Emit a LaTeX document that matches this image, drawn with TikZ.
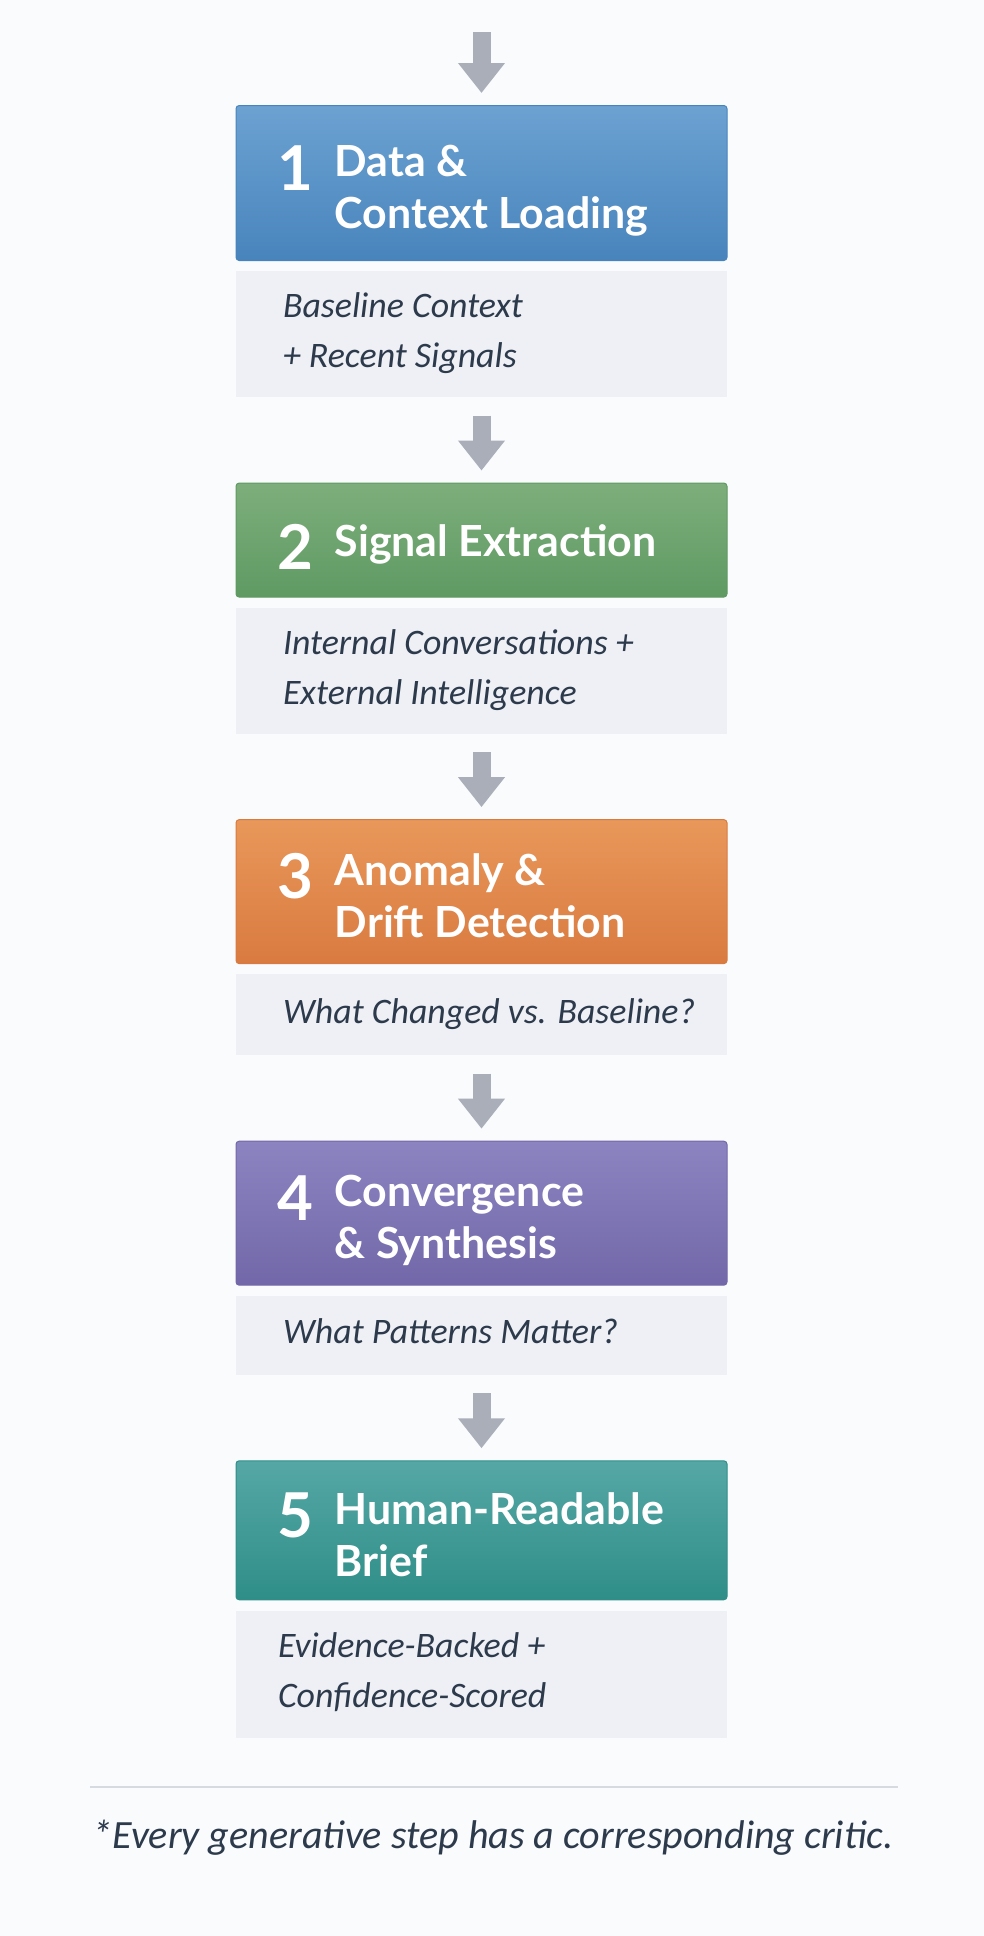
\documentclass[tikz,border=0pt]{standalone}
\usepackage{fontspec}
\setmainfont{Carlito}
\newfontfamily\headfont{Lato}
\usetikzlibrary{arrows.meta,positioning}
\definecolor{pagebg}{HTML}{FAFBFD}
\definecolor{subfill}{HTML}{EEF0F5}
\definecolor{arrowgray}{HTML}{A9AEB8}
\definecolor{ink}{HTML}{2C3A4B}
\definecolor{rulegray}{HTML}{D6DAE1}
\definecolor{blueTop}{HTML}{6CA2D2}
\definecolor{blueBot}{HTML}{4884BC}
\definecolor{greenTop}{HTML}{7DAE7B}
\definecolor{greenBot}{HTML}{5F9A63}
\definecolor{orangeTop}{HTML}{E9975A}
\definecolor{orangeBot}{HTML}{D97B41}
\definecolor{purpleTop}{HTML}{8C84C1}
\definecolor{purpleBot}{HTML}{7268A9}
\definecolor{tealTop}{HTML}{55A7A5}
\definecolor{tealBot}{HTML}{2F8E88}
\tikzset{
  head box/.style 2 args={
    rounded corners=0.8mm,
    top color=#1,
    bottom color=#2,
    draw=#2,
    line width=0.25mm,
    minimum width=122.75mm,
    inner sep=0pt
  },
  sub box/.style={fill=subfill,minimum width=122.75mm,inner sep=0pt},
  head title/.style={
    font=\headfont\bfseries\fontsize{30.5}{37}\selectfont,
    text=white,align=left,anchor=west,inner sep=0pt,text depth=0pt
  },
  head num/.style={
    font=\headfont\bfseries\fontsize{44}{44}\selectfont,
    text=white,inner sep=0pt,anchor=north
  },
  sub text/.style={
    font=\itshape\fontsize{25.5}{35.5}\selectfont,
    text=ink,align=left,anchor=west,inner sep=0pt,text depth=0pt
  },
  flow arrow/.style={
    -{Triangle[width=11.25mm,length=7.5mm]},
    line width=4.5mm,draw=arrowgray,
    shorten <=4.5mm,shorten >=3mm
  },
}
\begin{document}
\begin{tikzpicture}
  \fill[pagebg] (0,0) rectangle (246mm,-484mm);

  % step boxes
  \node[head box={blueTop}{blueBot},minimum height=38.75mm,anchor=north] (h1) at (120.375mm,-26.25mm) {};
  \node[sub box,minimum height=31.5mm,below=2.5mm of h1] (s1) {};
  \node[head box={greenTop}{greenBot},minimum height=28.5mm,below=21.25mm of s1] (h2) {};
  \node[sub box,minimum height=31.5mm,below=2.5mm of h2] (s2) {};
  \node[head box={orangeTop}{orangeBot},minimum height=36mm,below=21.25mm of s2] (h3) {};
  \node[sub box,minimum height=20.25mm,below=2.5mm of h3] (s3) {};
  \node[head box={purpleTop}{purpleBot},minimum height=36mm,below=21.25mm of s3] (h4) {};
  \node[sub box,minimum height=19.75mm,below=2.5mm of h4] (s4) {};
  \node[head box={tealTop}{tealBot},minimum height=34.75mm,below=21.25mm of s4] (h5) {};
  \node[sub box,minimum height=31.75mm,below=2.5mm of h5] (s5) {};

  % titles and numbers
  \node[head title] (t1) at ([xshift=24.75mm,yshift=-1mm]h1.west) {Data \&\\Context Loading};
  \node[head num,xshift=15mm] (n1) at (h1.west |- t1.north) {1};
  \node[head title] (t2) at ([xshift=24.75mm]h2.west) {Signal Extraction};
  \node[head num,xshift=15mm] (n2) at (h2.west |- t2.north) {2};
  \node[head title] (t3) at ([xshift=24.75mm,yshift=-1mm]h3.west) {Anomaly \&\\Drift Detection};
  \node[head num,xshift=15mm] (n3) at (h3.west |- t3.north) {3};
  \node[head title] (t4) at ([xshift=24.75mm,yshift=-1mm]h4.west) {Convergence\\\& Synthesis};
  \node[head num,xshift=15mm] (n4) at (h4.west |- t4.north) {4};
  \node[head title] (t5) at ([xshift=24.75mm,yshift=-1mm]h5.west) {Human-Readable\\Brief};
  \node[head num,xshift=15mm] (n5) at (h5.west |- t5.north) {5};

  % descriptions
  \node[sub text] (d1) at ([xshift=11.75mm,yshift=1mm]s1.west) {Baseline Context\\+ Recent Signals};
  \node[sub text] (d2) at ([xshift=11.75mm,yshift=1mm]s2.west) {Internal Conversations +\\External Intelligence};
  \node[sub text] (d3) at ([xshift=11.75mm,yshift=1mm]s3.west) {What Changed vs. Baseline?};
  \node[sub text] (d4) at ([xshift=11.75mm,yshift=1mm]s4.west) {What Patterns Matter?};
  \node[sub text] (d5) at ([xshift=10.5mm,yshift=1mm]s5.west) {Evidence-Backed +\\Confidence-Scored};

  % arrows
  \coordinate[above=18.25mm of h1] (entry);
  \draw[flow arrow,shorten <=0pt] (entry) -- (h1);
  \draw[flow arrow] (s1) -- (h2);
  \draw[flow arrow] (s2) -- (h3);
  \draw[flow arrow] (s3) -- (h4);
  \draw[flow arrow] (s4) -- (h5);

  % footnote
  \draw[rulegray,line width=0.6mm] (22.5mm,-446.75mm) -- (224.5mm,-446.75mm);
  \node[font=\itshape\fontsize{28.5}{32}\selectfont,text=ink,anchor=base] (note) at (123.2mm,-462mm)
    {*Every generative step has a corresponding critic.};
\end{tikzpicture}
\end{document}
